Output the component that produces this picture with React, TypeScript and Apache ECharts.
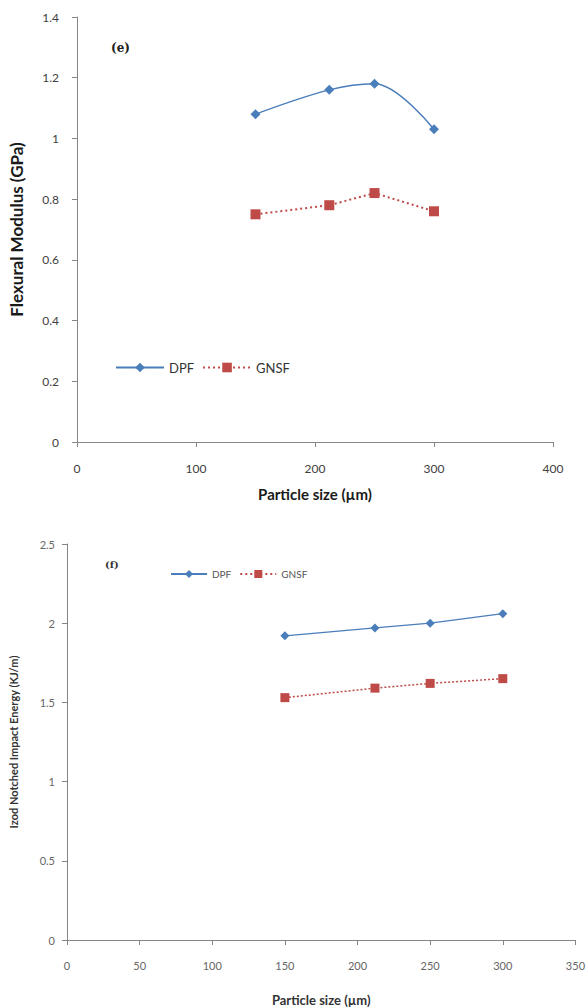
import React, { useEffect, useRef } from "react";
import * as echarts from "echarts";

// Chart (e): Flexural modulus
const sizesE = [150, 212, 250, 300];
const dpfModulus = [1.08, 1.16, 1.18, 1.03];
const gnsfModulus = [0.75, 0.78, 0.82, 0.76];

// Chart (f): Izod notched impact energy
const sizesF = [150, 212, 250, 300];
const dpfImpact = [1.92, 1.97, 2.0, 2.06];
const gnsfImpact = [1.53, 1.59, 1.62, 1.65];

const seriesNames = ["DPF", "GNSF"];
const xTitle = "Particle size (µm)";
const yTitleE = "Flexural Modulus (GPa)";
const yTitleF = "Izod Notched Impact Energy (KJ/m)";
const panelLabels = ["(e)", "(f)"];

const BLUE = "#4a7ebb";
const RED = "#be4b48";
const AXIS = "#868686";
const FONT = "Lato, 'Open Sans', sans-serif";

const pairs = (xs: number[], ys: number[]) => xs.map((x, i) => [x, ys[i]]);

export default function App() {
  const ref = useRef<HTMLDivElement>(null);
  useEffect(() => {
    document.body.style.margin = "0";
    const chart = echarts.init(ref.current!, null, { renderer: "svg" });
    const axisCommon = {
      axisLine: { show: true, lineStyle: { color: AXIS, width: 1 } },
      axisTick: { show: true, length: 5, lineStyle: { color: AXIS } },
      splitLine: { show: false },
    };
    chart.setOption({
      animation: false,
      backgroundColor: "#ffffff",
      title: [
        { text: panelLabels[0], left: 106, top: 37, textStyle: { fontFamily: "'DejaVu Serif', serif", fontWeight: "bold", fontSize: 12, color: "#222" } },
        { text: panelLabels[1], left: 100, top: 554, textStyle: { fontFamily: "'DejaVu Serif', serif", fontWeight: "bold", fontSize: 10, color: "#333" } },
      ],
      legend: [
        {
          data: seriesNames,
          left: 110,
          top: 356,
          itemWidth: 48,
          itemHeight: 12,
          itemGap: 8,
          textStyle: { fontFamily: FONT, fontSize: 13, color: "#333" },
        },
        {
          data: seriesNames,
          left: 165,
          top: 564,
          itemWidth: 36,
          itemHeight: 10,
          itemGap: 8,
          textStyle: { fontFamily: FONT, fontSize: 10, color: "#555" },
        },
      ],
      grid: [
        { left: 73, right: 35, top: 17, height: 425 },
        { left: 63, right: 12, top: 544, height: 398 },
      ],
      xAxis: [
        {
          ...axisCommon,
          gridIndex: 0,
          type: "value",
          min: 0,
          max: 400,
          interval: 100,
          name: xTitle,
          nameLocation: "middle",
          nameGap: 44,
          nameTextStyle: { fontFamily: FONT, fontWeight: "bold", fontSize: 15, color: "#1a1a1a" },
          axisLabel: { margin: 20, fontFamily: FONT, fontSize: 12, color: "#404040" },
        },
        {
          ...axisCommon,
          gridIndex: 1,
          type: "value",
          min: 0,
          max: 350,
          interval: 50,
          name: xTitle,
          nameLocation: "middle",
          nameGap: 53,
          nameTextStyle: { fontFamily: FONT, fontWeight: "bold", fontSize: 13, color: "#333" },
          axisLabel: { margin: 20, fontFamily: FONT, fontSize: 11, color: "#666" },
        },
      ],
      yAxis: [
        {
          ...axisCommon,
          gridIndex: 0,
          type: "value",
          min: 0,
          max: 1.4,
          interval: 0.2,
          name: yTitleE,
          nameLocation: "middle",
          nameGap: 52,
          nameTextStyle: { fontFamily: FONT, fontWeight: "bold", fontSize: 17, color: "#1a1a1a" },
          axisLabel: { margin: 18, fontFamily: FONT, fontSize: 12, color: "#404040" },
        },
        {
          ...axisCommon,
          gridIndex: 1,
          type: "value",
          min: 0,
          max: 2.5,
          interval: 0.5,
          name: yTitleF,
          nameLocation: "middle",
          nameGap: 48,
          nameTextStyle: { fontFamily: FONT, fontWeight: "bold", fontSize: 11, color: "#333" },
          axisLabel: { margin: 12, fontFamily: FONT, fontSize: 11, color: "#666" },
        },
      ],
      series: [
        {
          name: seriesNames[0],
          type: "line",
          xAxisIndex: 0,
          yAxisIndex: 0,
          data: pairs(sizesE, dpfModulus),
          smooth: 0.35,
          symbol: "diamond",
          symbolSize: 10,
          lineStyle: { color: BLUE, width: 1.5 },
          itemStyle: { color: BLUE },
        },
        {
          name: seriesNames[1],
          type: "line",
          xAxisIndex: 0,
          yAxisIndex: 0,
          data: pairs(sizesE, gnsfModulus),
          symbol: "rect",
          symbolSize: 10,
          lineStyle: { color: RED, width: 2, type: [2, 3] },
          itemStyle: { color: RED },
        },
        {
          name: seriesNames[0],
          type: "line",
          xAxisIndex: 1,
          yAxisIndex: 1,
          data: pairs(sizesF, dpfImpact),
          symbol: "diamond",
          symbolSize: 9,
          lineStyle: { color: BLUE, width: 1.3 },
          itemStyle: { color: BLUE },
        },
        {
          name: seriesNames[1],
          type: "line",
          xAxisIndex: 1,
          yAxisIndex: 1,
          data: pairs(sizesF, gnsfImpact),
          symbol: "rect",
          symbolSize: 9,
          lineStyle: { color: RED, width: 1.5, type: [2, 2] },
          itemStyle: { color: RED },
        },
      ],
    });
    return () => chart.dispose();
  }, []);
  return <div ref={ref} style={{ position: "absolute", left: 0, top: 0, width: 588, height: 1007 }} />;
}
